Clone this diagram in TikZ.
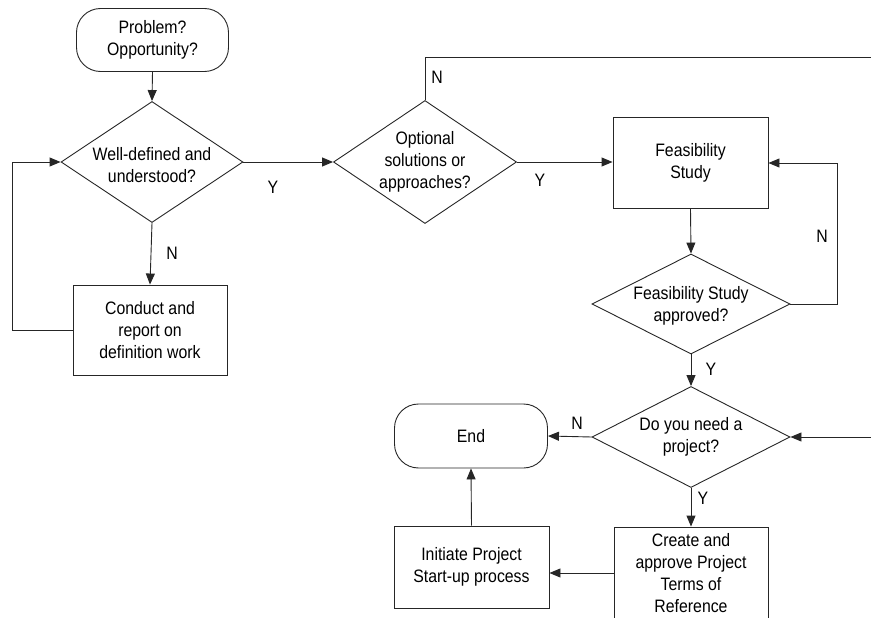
\documentclass[tikz,border=0pt]{standalone}
\usepackage{fontspec}
\setmainfont[FakeStretch=0.88]{Liberation Sans}
\usetikzlibrary{shapes.geometric,arrows.meta}
\begin{document}
\begin{tikzpicture}[x=1pt,y=-1pt,
  every node/.style={font=\fontsize{18}{22}\selectfont, align=center},
  ln/.style={draw=black!85, line width=0.9pt},
  arr/.style={ln, -{Triangle[length=11pt,width=9pt]}},
  term/.style={ln, rectangle, rounded corners=24pt, inner sep=0pt},
  boxn/.style={ln, rectangle, inner sep=0pt},
  dia/.style={ln, diamond, inner sep=0pt},
  lbl/.style={inner sep=0pt}
]
\useasboundingbox (0,0) rectangle (871,618);
\clip (0,0) rectangle (871,618);

\node[term, minimum width=152pt, minimum height=63pt] (start) at (152.5,40) {Problem?\\Opportunity?};
\node[dia, minimum width=182pt, minimum height=121pt, label={[name=d1t,yshift=-3pt]center:{Well-defined and\\understood?}}] (d1) at (152,162) {};
\node[boxn, minimum width=154pt, minimum height=90pt] (conduct) at (150,330) {Conduct and\\report on\\definition work};
\node[dia, minimum width=183pt, minimum height=123pt, label={[name=d2t]center:{Optional\\solutions or\\approaches?}}] (d2) at (425,162) {};
\node[boxn, minimum width=155pt, minimum height=91pt] (feas) at (690.5,163) {Feasibility\\Study};
\node[dia, minimum width=198pt, minimum height=100pt, label={[name=d3t,yshift=-2pt]center:{Feasibility Study\\approved?}}] (d3) at (691,304) {};
\node[dia, minimum width=198pt, minimum height=101pt, label={[name=d4t]center:{Do you need a\\project?}}] (d4) at (691,437) {};
\node[term, minimum width=153pt, minimum height=64pt] (endn) at (471,436) {End};
\node[boxn, minimum width=154pt, minimum height=92pt] (create) at (691,573) {Create and\\approve Project\\Terms of\\Reference};
\node[boxn, minimum width=155pt, minimum height=82pt] (init) at (471.5,567) {Initiate Project\\Start-up process};

\coordinate (edgeTop) at (871,57);
\coordinate (edgeR) at (871,437);

\draw[arr] (start.south) -- (d1.north);
\draw[arr] (d1.east) -- (d2.west);
\draw[arr] (d1.south) -- (conduct.north);
\draw[arr] (conduct.west) -- ++(-60,0) |- (d1.west);
\draw[ln] (d2.north) |- (edgeTop);
\draw[arr] (d2.east) -- (d2.east -| feas.west);
\draw[arr] (feas.south) -- (d3.north);
\draw[arr] (d3.east) -- ++(47,0) |- (feas.east);
\draw[arr] (d3.south) -- (d4.north);
\draw[arr] (edgeR) -- (d4.east);
\draw[arr] (d4.west) -- (endn.east);
\draw[arr] (d4.south) -- (create.north);
\draw[arr] (create.west) -- (create.west -| init.east);
\draw[arr] (init.north) -- (endn.south);

\node[lbl] (y1) at (273,187) {Y};
\node[lbl] (n1) at (172,253) {N};
\node[lbl] (n2) at (437,77) {N};
\node[lbl] (y2) at (540,180) {Y};
\node[lbl] (n3) at (822,236) {N};
\node[lbl] (y3) at (711,369) {Y};
\node[lbl] (n4) at (577,423) {N};
\node[lbl] (y4) at (703,498) {Y};
\end{tikzpicture}
\end{document}
